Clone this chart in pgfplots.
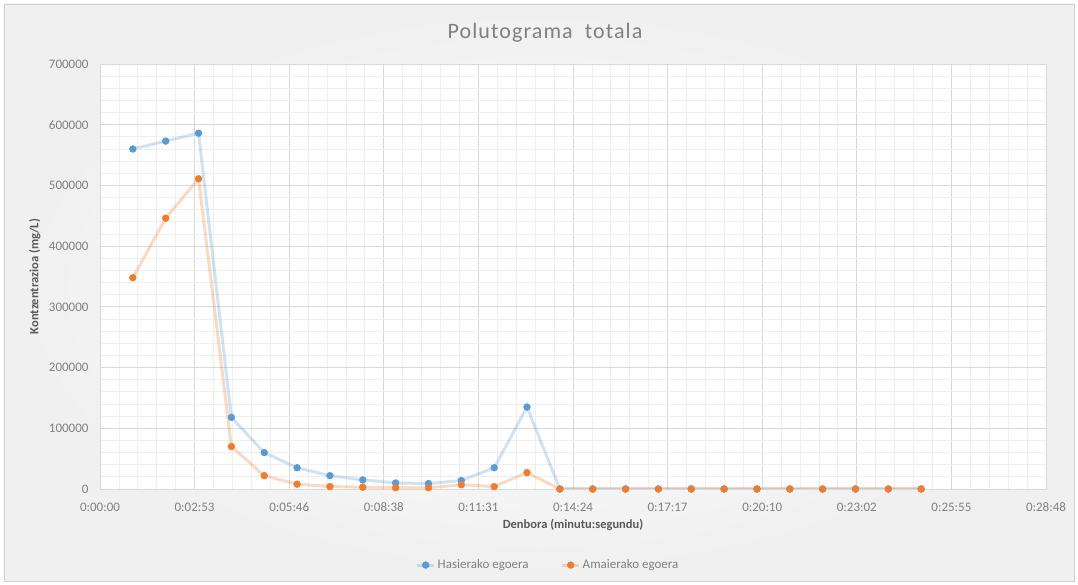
\documentclass[border=0pt]{standalone}
\usepackage{fontspec}
\setmainfont{Carlito}
\usepackage{pgfplots}
\pgfplotsset{compat=1.18}
\definecolor{serA}{HTML}{5B9BD5}
\definecolor{serB}{HTML}{ED7D31}
\definecolor{txtgray}{HTML}{808080}
\definecolor{labgray}{HTML}{595959}
\definecolor{majgrid}{HTML}{D9D9D9}
\definecolor{mingrid}{HTML}{EFEFEF}

\begin{document}
\begin{tikzpicture}[x=1pt,y=1pt]
\path[use as bounding box] (-100,-96) rectangle (978,489);
\shade[inner color=white, outer color=black!6] (-96,-92) rectangle (974,485);
\draw[black!18] (-96,-92) rectangle (974,485);
\node[font=\fontsize{22}{26}\selectfont\addfontfeature{LetterSpace=5}, text=txtgray] at (445,456) {Polutograma\ \ totala};
\begin{axis}[
  at={(0,0)}, anchor=south west,
  width=946pt, height=425pt, scale only axis,
  xmin=0, xmax=1728, ymin=0, ymax=700000,
  xtick={0,172.8,345.6,518.4,691.2,864,1036.8,1209.6,1382.4,1555.2,1728},
  xticklabels={0:00:00,0:02:53,0:05:46,0:08:38,0:11:31,0:14:24,0:17:17,0:20:10,0:23:02,0:25:55,0:28:48},
  ytick={0,100000,200000,300000,400000,500000,600000,700000},
  minor tick num=4,
  grid=both,
  major grid style={majgrid, line width=0.8pt},
  minor grid style={mingrid, line width=0.8pt},
  axis line style={majgrid, line width=0.8pt},
  axis background/.style={fill=white},
  major tick length=0pt, minor tick length=0pt,
  tick label style={font=\fontsize{13}{15}\selectfont, text=txtgray},
  /pgf/number format/assume math mode=true,
  scaled y ticks=false,
  yticklabel style={/pgf/number format/fixed, /pgf/number format/1000 sep={}, xshift=-8pt},
  xticklabel style={anchor=center, yshift=-18pt},
  xlabel={Denbora (minutu:segundu)},
  ylabel={Kontzentrazioa (mg/L)},
  label style={font=\bfseries\fontsize{12.5}{15}\selectfont, text=labgray},
  xlabel style={at={(axis description cs:0.5,-0.085)}, anchor=center},
  ylabel style={at={(axis description cs:-0.069,0.5)}, anchor=center},
  legend style={at={(axis description cs:0.4736,-0.179)}, anchor=center, draw=none, fill=none,
    legend columns=2, font=\fontsize{13}{15}\selectfont, text=txtgray,
    /tikz/every even column/.append style={column sep=30pt}},
  legend cell align={left},
]
\addplot[serA, line width=3pt, draw opacity=0.28, mark=*, mark size=3.4pt,
  mark options={fill=serA, draw=serA, draw opacity=1, fill opacity=1, line width=0.5pt}]
coordinates {
  (60,560000) (120,573000) (180,586000) (240,118000) (300,60000)
  (360,35000) (420,22000) (480,15000) (540,10000) (600,9000)
  (660,14000) (720,35000) (780,135000) (840,0) (900,0)
  (960,0) (1020,0) (1080,0) (1140,0) (1200,0)
  (1260,0) (1320,0) (1380,0) (1440,0) (1500,0)
};
\addlegendentry{Hasierako egoera}
\addplot[serB, line width=3pt, draw opacity=0.28, mark=*, mark size=3.4pt,
  mark options={fill=serB, draw=serB, draw opacity=1, fill opacity=1, line width=0.5pt}]
coordinates {
  (60,348000) (120,446000) (180,511000) (240,70000) (300,22000)
  (360,8000) (420,4000) (480,3000) (540,2000) (600,2000)
  (660,7000) (720,4000) (780,27000) (840,0) (900,0)
  (960,0) (1020,0) (1080,0) (1140,0) (1200,0)
  (1260,0) (1320,0) (1380,0) (1440,0) (1500,0)
};
\addlegendentry{Amaierako egoera}
\end{axis}
\end{tikzpicture}
\end{document}
